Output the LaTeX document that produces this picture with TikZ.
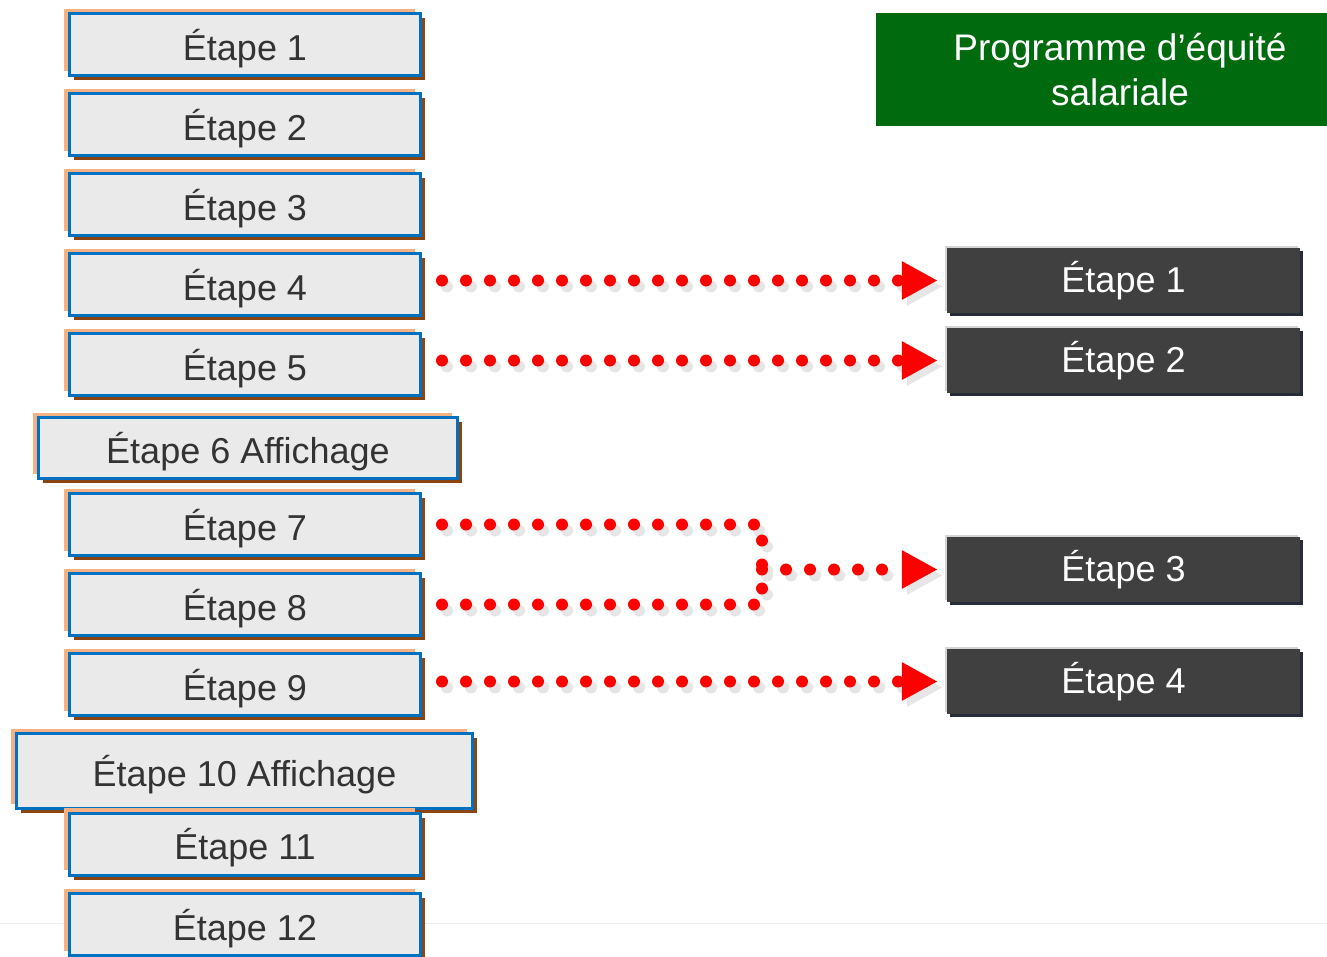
\documentclass[tikz,border=0pt]{standalone}
\usepackage{fontspec}
\setmainfont{Liberation Sans}
\usetikzlibrary{arrows.meta,shadows}
\definecolor{BoxBlue}{HTML}{0070C0}
\definecolor{BoxFill}{HTML}{EAEAEA}
\definecolor{Peach}{HTML}{F4B183}
\definecolor{Rust}{HTML}{8B4513}
\definecolor{TextGray}{HTML}{333333}
\definecolor{DarkFill}{HTML}{404040}
\definecolor{EdgeGray}{HTML}{D4D4D4}
\definecolor{Navy}{HTML}{262C3A}
\definecolor{ProgGreen}{HTML}{006A0E}
\definecolor{DotRed}{HTML}{FF0000}
\definecolor{DotShadow}{HTML}{E6E6E6}
\definecolor{Footer}{HTML}{EFEFEF}

\tikzset{
  gros/.style={font=\fontsize{36}{40}\selectfont},
  etape/.style={gros, draw=BoxBlue, line width=3pt, fill=BoxFill, text=TextGray,
    minimum width=351pt, minimum height=62pt, inner sep=0pt, text depth=0pt,
    general shadow={shadow xshift=-5.5pt, shadow yshift=5pt, fill=Peach},
    general shadow={shadow xshift=4.5pt, shadow yshift=-4.5pt, fill=Rust}},
  etapenoire/.style={gros, fill=DarkFill, text=white,
    minimum width=353pt, minimum height=65pt, inner sep=0pt,
    general shadow={shadow xshift=-2pt, shadow yshift=2pt, fill=EdgeGray},
    general shadow={shadow xshift=3pt, shadow yshift=-3pt, fill=Navy}},
  pointille/.style={line width=12pt, line cap=round, dash pattern=on 0pt off 24pt,
    shorten <=20pt},
  fleche/.style={pointille, shorten >=9pt, -{Triangle[length=36pt,width=36pt]}}
}

% dotted links, drawn once as shadow and once in red
\newcommand{\liens}[1]{%
  \draw[fleche,#1] (s4.east |- d1) -- (d1.west);
  \draw[fleche,#1] (s5.east |- d2) -- (d2.west);
  \draw[pointille,#1] (s7.east) -| (m);
  \draw[pointille,#1] (s8.east) -| (m);
  \draw[fleche,#1,shorten <=0pt] (m) -- (d3.west);
  \draw[fleche,#1] (s9.east |- d4) -- (d4.west);
}

\begin{document}
\begin{tikzpicture}[x=1pt,y=-1pt]
  \useasboundingbox (0,0) rectangle (1327,956);
  \draw[Footer, line width=1pt] (0,923) -- (1327,923);

  % left column
  \foreach \i/\y in {1/44.5,2/124.5,3/204.5,4/284.5,5/364.5,7/524.5,8/604.5,9/684.5}
    \node[etape] (s\i) at (245,\y) {Étape \i};
  \node[etape, minimum width=419pt, minimum height=61pt] (s6) at (248,448) {Étape 6 Affichage};
  \node[etape, minimum width=456pt, minimum height=75pt] (s10) at (244.5,771) {Étape 10 Affichage};
  \node[etape] (s11) at (245,844) {Étape 11};
  \node[etape] (s12) at (245,924.5) {Étape 12};

  % program side
  \node[fill=ProgGreen, minimum width=451pt, minimum height=113pt, inner sep=0pt] (prog) at (1101.5,69.5) {};
  \node[text=white, align=center, font=\fontsize{37}{45}\selectfont] (progtxt) at (1120,69.5)
    {Programme d’équité\\salariale};

  \node[etapenoire] (d1) at (1123.5,280.5) {Étape 1};
  \node[etapenoire] (d2) at (1123.5,360.5) {Étape 2};
  \node[etapenoire] (d3) at (1123.5,569.5) {Étape 3};
  \node[etapenoire] (d4) at (1123.5,681.5) {Étape 4};

  \coordinate (m) at (762,569.5);

  \begin{scope}[transform canvas={shift={(5,6)}}]
    \liens{DotShadow}
  \end{scope}
  \liens{DotRed}
\end{tikzpicture}
\end{document}
